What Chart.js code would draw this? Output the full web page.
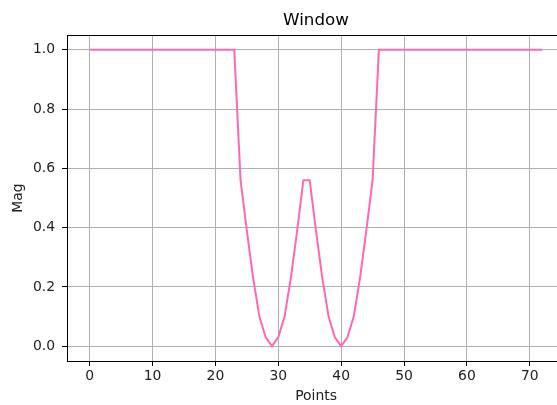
<!DOCTYPE html>
<html>
<head>
<meta charset="utf-8">
<script src="https://cdn.jsdelivr.net/npm/chart.js@4/dist/chart.umd.min.js"></script>
<style>
  html, body { margin: 0; padding: 0; background: #fff; overflow: hidden; }
  #wrap { width: 557px; height: 405px; overflow: hidden; }
  #wrap canvas { display: block; }
</style>
</head>
<body>
<div id="wrap"><canvas id="win" width="580" height="405"></canvas></div>
<script>
/* ---- data ---- */
const points = Array.from({ length: 73 }, (_, i) => i);
const mag = [
  1, 1, 1, 1, 1, 1, 1, 1, 1, 1, 1, 1, 1, 1, 1, 1, 1, 1, 1, 1, 1, 1, 1, 1,
  0.56, 0.39, 0.23, 0.1, 0.03, 0, 0.03, 0.1, 0.23, 0.39, 0.56,
  0.56, 0.39, 0.23, 0.1, 0.03, 0, 0.03, 0.1, 0.23, 0.39, 0.56,
  1, 1, 1, 1, 1, 1, 1, 1, 1, 1, 1, 1, 1, 1, 1, 1, 1, 1, 1, 1, 1, 1, 1, 1, 1, 1, 1,
];
const xTicks = [0, 10, 20, 30, 40, 50, 60, 70];
const yTicks = [0, 0.2, 0.4, 0.6, 0.8, 1.0];

Chart.defaults.font.family = "'DejaVu Sans', sans-serif";
Chart.defaults.color = "#222";

// draws the black frame round the plot area
const frame = {
  id: "frame",
  afterDraw(chart) {
    const { ctx, chartArea: a } = chart;
    ctx.save();
    ctx.strokeStyle = "#000";
    ctx.lineWidth = 1;
    ctx.strokeRect(Math.round(a.left) + 0.5, Math.round(a.top) + 0.5,
      Math.round(a.right - a.left), Math.round(a.bottom - a.top));
    ctx.restore();
  },
};

new Chart(document.getElementById("win"), {
  type: "line",
  plugins: [frame],
  data: {
    datasets: [{
      data: points.map((p, i) => ({ x: p, y: mag[i] })),
      borderColor: "#ff69b4",
      borderWidth: 2,
      pointRadius: 0,
      tension: 0,
    }],
  },
  options: {
    responsive: false,
    animation: false,
    layout: { padding: { left: 0, right: 15, top: 0, bottom: 0 } },
    plugins: {
      legend: { display: false },
      tooltip: { enabled: false },
      title: {
        display: true,
        text: "Window",
        fullSize: false,
        color: "#000",
        font: { size: 16.7, weight: "normal" },
        padding: { top: 11, bottom: 4 },
      },
    },
    scales: {
      x: {
        type: "linear",
        min: -3.6,
        max: 75.6,
        afterBuildTicks: (s) => { s.ticks = xTicks.map((v) => ({ value: v })); },
        afterFit: (s) => { s.height = 44; },
        grid: { color: "#b0b0b0", tickColor: "#000", tickLength: 5, lineWidth: 1 },
        border: { display: false },
        ticks: { font: { size: 13.9 }, padding: 2, maxRotation: 0 },
        title: { display: true, text: "Points", font: { size: 13.9, lineHeight: 1 }, padding: { top: 0, bottom: 2 } },
      },
      y: {
        min: -0.05,
        max: 1.05,
        afterBuildTicks: (s) => { s.ticks = yTicks.map((v) => ({ value: v })); },
        afterFit: (s) => { s.width = 67; },
        grid: { color: "#b0b0b0", tickColor: "#000", tickLength: 5, lineWidth: 1 },
        border: { display: false },
        ticks: { font: { size: 13.9 }, padding: 7, callback: (v) => v.toFixed(1) },
        title: { display: true, text: "Mag", font: { size: 13.9 }, padding: { top: 10, bottom: 4 } },
      },
    },
  },
});
</script>
</body>
</html>
